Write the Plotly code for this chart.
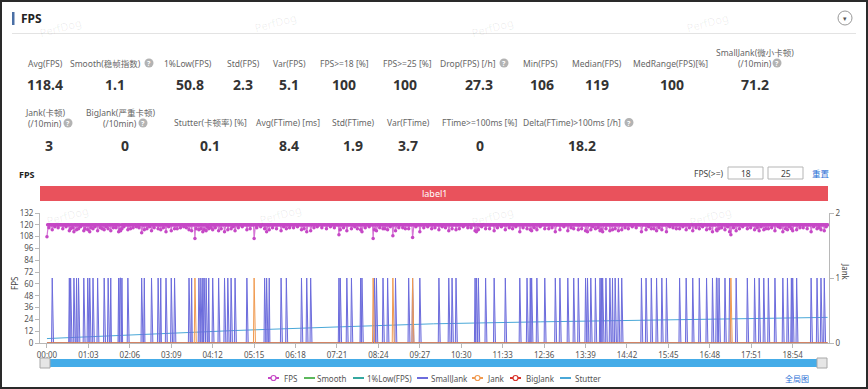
import plotly.graph_objects as go

# ---------------- data ----------------
n_seconds = 1188  # one FPS sample per second, 00:00 .. 19:47
tick_labels = ["00:00", "01:03", "02:06", "03:09", "04:12", "05:15", "06:18", "07:21",
               "08:24", "09:27", "10:30", "11:33", "12:36", "13:39", "14:42", "15:45",
               "16:48", "17:51", "18:54"]

fps_base = 120
minor_dip_times = [3, 12, 17, 24, 29, 39, 51, 58, 67, 73,
                   81, 84, 90, 101, 105, 117, 127, 131, 136, 140,
                   152, 156, 163, 177, 185, 198, 203, 208, 212, 227,
                   244, 249, 256, 265, 283, 291, 297, 309, 319, 325,
                   343, 349, 360, 369, 375, 381, 391, 406, 411, 418,
                   425, 431, 437, 451, 468, 472, 484, 490, 506, 514,
                   522, 535, 541, 545, 561, 573, 579, 585, 590, 601,
                   606, 627, 633, 640, 645, 661, 673, 685, 691, 703,
                   708, 713, 724, 741, 750, 763, 768, 786, 797, 813,
                   830, 838, 879, 884, 890, 896, 915, 923, 931, 947,
                   952, 957, 967, 977, 987, 997, 1008, 1026, 1035, 1044,
                   1053, 1058, 1070, 1080, 1086, 1093, 1102, 1112, 1115, 1123,
                   1129, 1145, 1150, 1156, 1166, 1174, 1185]
minor_dip_fps = [117, 118, 117, 116, 118, 117, 118, 116, 117, 118,
                 117, 116, 118, 117, 117, 118, 116, 117, 118, 117,
                 116, 118, 117, 117, 118, 116, 117, 118, 117, 116,
                 118, 117, 117, 116, 118, 117, 118, 116, 117, 118,
                 117, 116, 118, 117, 117, 118, 116, 117, 118, 117,
                 116, 118, 117, 117, 118, 116, 117, 118, 117, 116,
                 118, 117, 117, 116, 118, 117, 118, 116, 117, 118,
                 117, 116, 118, 117, 117, 118, 116, 117, 118, 117,
                 116, 118, 117, 117, 118, 116, 117, 118, 117, 116,
                 118, 117, 117, 116, 118, 117, 118, 116, 117, 118,
                 117, 116, 118, 117, 117, 118, 116, 117, 118, 117,
                 116, 118, 117, 117, 118, 116, 117, 118, 117, 116,
                 118, 117, 117, 116, 118, 117, 118]
smalljank_times = [8, 34, 36, 41, 45, 48, 56, 62, 65, 70,
                   77, 87, 93, 97, 109, 111, 112, 114, 123, 144,
                   148, 159, 169, 173, 181, 189, 194, 216, 220, 231,
                   234, 237, 239, 242, 246, 252, 261, 270, 275, 280,
                   286, 304, 331, 334, 338, 356, 364, 387, 395, 401,
                   444, 446, 456, 463, 477, 479, 498, 501, 511, 518,
                   530, 550, 556, 567, 596, 611, 616, 622, 651, 653,
                   656, 667, 680, 697, 719, 730, 735, 737, 745, 757,
                   773, 780, 792, 801, 808, 819, 822, 827, 834, 841,
                   843, 845, 850, 856, 860, 864, 869, 874, 904, 911,
                   919, 927, 935, 942, 962, 972, 982, 992, 1003, 1012,
                   1018, 1019, 1022, 1031, 1038, 1048, 1065, 1076, 1083, 1090,
                   1097, 1107, 1119, 1126, 1132, 1134, 1140, 1162, 1171, 1177,
                   1182]
smalljank_fps = [115, 114, 116, 113, 115, 116, 114, 115, 113, 116,
                 114, 115, 116, 114, 113, 115, 114, 116, 115, 112,
                 115, 114, 116, 115, 113, 114, 116, 115, 114, 115,
                 116, 113, 115, 114, 116, 115, 114, 113, 115, 116,
                 114, 115, 116, 113, 115, 114, 116, 115, 113, 114,
                 110, 115, 114, 116, 115, 113, 115, 114, 116, 115,
                 114, 116, 115, 113, 115, 114, 116, 115, 114, 113,
                 115, 116, 114, 115, 113, 116, 115, 114, 115, 116,
                 113, 115, 114, 116, 115, 114, 113, 115, 116, 114,
                 115, 113, 116, 114, 115, 116, 114, 115, 113, 115,
                 116, 114, 115, 113, 116, 115, 114, 116, 115, 113,
                 115, 114, 116, 115, 113, 114, 116, 115, 114, 115,
                 116, 114, 113, 115, 116, 114, 115, 113, 116, 115,
                 114]
jank_times = [225, 315, 496, 526, 556, 1040]
jank_fps = [106, 106, 106, 109, 107, 110]
bigjank_times = []
start_fps = 108

stutter_times = [0, 150, 287, 450, 588, 750, 889, 1050, 1187]
stutter_values = [4.5, 9.0, 12.7, 16.5, 19.5, 21.5, 23.0, 24.8, 26.0]

stat_row1_labels = [["Avg(FPS)"], ["Smooth(稳帧指数)"], ["1%Low(FPS)"], ["Std(FPS)"], ["Var(FPS)"],
                    ["FPS>=18 [%]"], ["FPS>=25 [%]"], ["Drop(FPS) [/h]"], ["Min(FPS)"],
                    ["Median(FPS)"], ["MedRange(FPS)[%]"], ["SmallJank(微小卡顿)", "(/10min)"]]
stat_row1_values = ["118.4", "1.1", "50.8", "2.3", "5.1", "100", "100", "27.3", "106", "119", "100", "71.2"]
stat_row1_help = [False, True, False, False, False, False, False, True, False, False, False, True]

stat_row2_labels = [["Jank(卡顿)", "(/10min)"], ["BigJank(严重卡顿)", "(/10min)"], ["Stutter(卡顿率) [%]"],
                    ["Avg(FTime) [ms]"], ["Std(FTime)"], ["Var(FTime)"], ["FTime>=100ms [%]"],
                    ["Delta(FTime)>100ms [/h]"]]
stat_row2_values = ["3", "0", "0.1", "8.4", "1.9", "3.7", "0", "18.2"]
stat_row2_help = [True, True, False, False, False, False, False, True]

legend_names = ["FPS", "Smooth", "1%Low(FPS)", "SmallJank", "Jank", "BigJank", "Stutter"]

# ---------------- series build ----------------
t = list(range(n_seconds))
fps = [fps_base] * n_seconds
for tt, v in zip(minor_dip_times, minor_dip_fps):
    fps[tt] = v
fps[0] = start_fps
for tt, v in zip(smalljank_times, smalljank_fps):
    fps[tt] = v
for tt, v in zip(jank_times, jank_fps):
    fps[tt] = v
smalljank = [0] * n_seconds
for tt in smalljank_times:
    smalljank[tt] = 1
jank = [0] * n_seconds
for tt in jank_times:
    jank[tt] = 1
bigjank = [0] * n_seconds
for tt in bigjank_times:
    bigjank[tt] = 1
smooth = [0] * n_seconds


def to_sec(s):
    m, sec = s.split(":")
    return int(m) * 60 + int(sec)


tick_vals = [to_sec(s) for s in tick_labels]

# ---------------- styling ----------------
C_FPS = "#c648c6"
C_SMOOTH = "#5cb85c"
C_LOW = "#35a8a0"
C_SJ = "#6c6cdc"
C_JANK = "#f09a50"
C_BJ = "#d9342b"
C_ST = "#4aa8d8"
FONT = "Noto Sans, Noto Sans CJK SC, sans-serif"

L, R, T, B = 40, 829, 213, 343
W, H = R - L, B - T


def fx(px):
    return (px - L) / W


def fy(py):
    return (B - py) / H


fig = go.Figure()
fig.add_trace(go.Scatter(x=t, y=fps, name="FPS", mode="lines+markers",
                         line=dict(color="#d677d6", width=1.2),
                         marker=dict(color=C_FPS, size=3.5), showlegend=False))
fig.add_trace(go.Scatter(x=t, y=smooth, name="Smooth", mode="lines",
                         line=dict(color=C_SMOOTH, width=1), showlegend=False))
fig.add_trace(go.Scatter(x=t, y=smalljank, name="SmallJank", mode="lines", yaxis="y2",
                         line=dict(color=C_SJ, width=1), fill="tozeroy",
                         fillcolor="rgba(135,135,235,0.3)", showlegend=False))
fig.add_trace(go.Scatter(x=t, y=bigjank, name="BigJank", mode="lines", yaxis="y2",
                         line=dict(color=C_BJ, width=1), showlegend=False))
fig.add_trace(go.Scatter(x=t, y=jank, name="Jank", mode="lines", yaxis="y2",
                         line=dict(color=C_JANK, width=1), showlegend=False))
fig.add_trace(go.Scatter(x=stutter_times, y=stutter_values, name="Stutter", mode="lines",
                         line=dict(color=C_ST, width=1), showlegend=False))

shapes = []
ann = []


def text(px, py, s, size=9, color="#666", xanchor="center", angle=0, bold=False):
    ann.append(dict(x=fx(px), y=fy(py), xref="paper", yref="paper", text=("<b>%s</b>" % s) if bold else s,
                    showarrow=False, xanchor=xanchor, yanchor="middle", textangle=angle,
                    font=dict(size=size, color=color, family=FONT)))


def rect(x0, y0, x1, y1, fill=None, line=None, lw=1, kind="rect"):
    shapes.append(dict(type=kind, xref="paper", yref="paper", x0=fx(x0), x1=fx(x1), y0=fy(y1), y1=fy(y0),
                       fillcolor=fill if fill else "rgba(0,0,0,0)",
                       line=dict(color=line if line else "rgba(0,0,0,0)", width=lw if line else 0),
                       layer="above"))


def help_icon(px, py):
    rect(px - 4.5, py - 4.5, px + 4.5, py + 4.5, fill="#b3b3b3", kind="circle")
    text(px, py + 0.5, "?", size=7, color="white", bold=True)


# watermarks
for (wx, wy) in [(60, 27), (275, 22), (492, 27), (707, 22), (67, 215), (280, 214), (492, 216), (710, 216)]:
    text(wx, wy, "PerfDog", size=11, color="rgba(0,0,0,0.07)", angle=-15)

# outer border & header
rect(1, 1, 867, 388, line="#2a2a2a", lw=2)
rect(12, 12, 14.5, 25, fill="#4a6fa5")
text(19, 18.5, "FPS", size=12, color="#222", xanchor="left", bold=True)
shapes.append(dict(type="line", xref="paper", yref="paper", x0=fx(12), x1=fx(856), y0=fy(33.5), y1=fy(33.5),
                   line=dict(color="#e3e3e3", width=1)))
rect(838, 11, 852, 25, fill="white", line="#999", lw=1, kind="circle")
text(845, 18.5, "▾", size=7, color="#555")

# stats row 1
r1_label_x = [45, 112, 188, 243, 289, 344, 407, 481, 540, 597, 670, 755]
r1_value_x = [45, 115, 190, 243, 289, 344, 405, 479, 542, 597, 672, 755]
r1_help_x = {1: 149, 7: 504, 11: 777}
for i, (lines, val) in enumerate(zip(stat_row1_labels, stat_row1_values)):
    if len(lines) == 2:
        text(r1_label_x[i], 52.5, lines[0], size=8.5)
        text(r1_label_x[i], 63.5, lines[1], size=8.5)
    elif stat_row1_help[i]:
        text(r1_help_x[i] - 6, 63, lines[0], size=8.5, xanchor="right")
    else:
        text(r1_label_x[i], 63, lines[0], size=8.5)
    if stat_row1_help[i]:
        help_icon(r1_help_x[i], 63)
    text(r1_value_x[i], 84, val, size=14, color="#333", bold=True)

# stats row 2
r2_label_x = [45, 120, 210, 288, 353, 408, 480, 579]
r2_value_x = [49, 125, 210, 289, 353, 408, 480, 582]
r2_help_x = {0: 68, 1: 143, 7: 629}
for i, (lines, val) in enumerate(zip(stat_row2_labels, stat_row2_values)):
    if len(lines) == 2:
        text(r2_label_x[i], 112, lines[0], size=8.5)
        text(r2_label_x[i], 123.5, lines[1], size=8.5)
    elif stat_row2_help[i]:
        text(r2_help_x[i] - 6, 122.5, lines[0], size=8.5, xanchor="right")
    else:
        text(r2_label_x[i], 122.5, lines[0], size=8.5)
    if stat_row2_help[i]:
        help_icon(r2_help_x[i], 123 if len(lines) == 2 else 122.5)
    text(r2_value_x[i], 145, val, size=14, color="#333", bold=True)

# chart header
text(17, 174, "FPS", size=9, color="#222", xanchor="left", bold=True)
text(708, 173, "FPS(>=)", size=8.5, color="#444")
rect(728, 167, 763, 179, fill="white", line="#b5b5b5")
rect(768, 167, 803, 179, fill="white", line="#b5b5b5")
text(745.5, 173, "18", size=8.5, color="#444")
text(785.5, 173, "25", size=8.5, color="#444")
text(821, 173, "重置", size=8.5, color="#2a6fd6")
rect(40, 186, 828, 201, fill="#e9525c")
text(434, 193.5, "label1", size=9, color="white")

# axis titles
text(14, 283, "FPS", size=8, color="#444", angle=-90)
text(846, 272, "Jank", size=8, color="#444", angle=90)

# slider
rect(45, 359, 822, 367, fill="#45ace8")
rect(40, 358, 50, 368, fill="#e6e6e6", line="#a8a8a8")
rect(817, 358, 827, 368, fill="#e6e6e6", line="#a8a8a8")

# custom legend
leg_icon_x = [268, 304, 353, 417, 472, 510, 560]
leg_text_x = [282, 315, 365, 429, 485, 524, 573]
leg_colors = [C_FPS, C_SMOOTH, C_LOW, C_SJ, C_JANK, C_BJ, C_ST]
leg_marker = [True, False, False, False, True, True, False]
ly = 378
for name, ix, tx, c, mk in zip(legend_names, leg_icon_x, leg_text_x, leg_colors, leg_marker):
    shapes.append(dict(type="line", xref="paper", yref="paper", x0=fx(ix), x1=fx(ix + 11),
                       y0=fy(ly), y1=fy(ly), line=dict(color=c, width=2)))
    if mk:
        rect(ix + 3, ly - 2.5, ix + 8, ly + 2.5, fill="white", line=c, lw=1.2, kind="circle")
    text(tx, ly, name, size=8, color="#555", xanchor="left")
text(797, 378, "全局图", size=8, color="#2a6fd6")

axis_common = dict(showline=True, linecolor="#b8b8b8", linewidth=1, ticks="outside", ticklen=4,
                   tickcolor="#b8b8b8", showgrid=False, zeroline=False,
                   tickfont=dict(size=8, color="#555", family=FONT))

fig.update_layout(
    width=868, height=389,
    margin=dict(l=L, r=868 - R, t=T, b=389 - B, pad=0),
    paper_bgcolor="white", plot_bgcolor="white",
    showlegend=False,
    font=dict(family=FONT),
    xaxis=dict(range=[-10.6, 1189.2], tickvals=tick_vals, ticktext=tick_labels, **axis_common),
    yaxis=dict(range=[0, 132], tickvals=list(range(0, 133, 12)), **axis_common),
    yaxis2=dict(range=[0, 2], tickvals=[0, 1, 2], overlaying="y", side="right", **axis_common),
    shapes=shapes, annotations=ann,
)

fig.write_html("out.html", config={"displayModeBar": False},
               post_script="document.body.style.margin='0px';document.body.style.padding='0px';")
